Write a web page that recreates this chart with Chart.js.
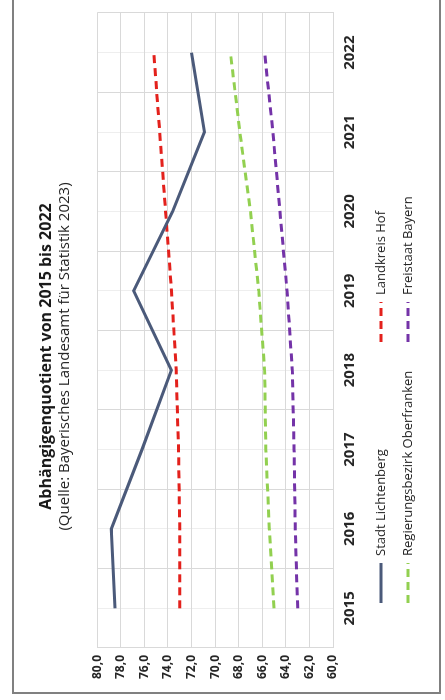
<!DOCTYPE html>
<html>
<head>
<meta charset="utf-8">
<script src="https://cdn.jsdelivr.net/npm/chart.js@4"></script>
<style>
  html, body { margin: 0; padding: 0; background: #fff; overflow: hidden; }
  #page { position: relative; width: 445px; height: 700px; overflow: hidden; background: #fff; }
  #rot { position: absolute; left: 0; top: 0; width: 700px; height: 445px;
         transform-origin: 0 0; transform: translateY(700px) rotate(-90deg); }
  #frame { position: absolute; left: 12px; top: -10px; width: 425px; height: 700px;
           border: 2px solid #808080; pointer-events: none; }
</style>
</head>
<body>
<div id="page">
  <div id="rot"><canvas id="c" width="700" height="445"></canvas></div>
  <div id="frame"></div>
</div>
<script>
const years = [2015, 2016, 2017, 2018, 2019, 2020, 2021, 2022];
const stadtLichtenberg = [78.5, 78.8, 76.2, 73.7, 76.9, 73.6, 70.9, 72.0];
const landkreisHof = [73.0, 73.0, 73.1, 73.3, 73.7, 74.2, 74.7, 75.2];
const oberfranken = [65.0, 65.4, 65.7, 65.8, 66.3, 67.0, 67.9, 68.7];
const freistaatBayern = [63.0, 63.2, 63.3, 63.45, 63.9, 64.5, 65.1, 65.8];
const seriesLabels = ['Stadt Lichtenberg', 'Landkreis Hof', 'Regierungsbezirk Oberfranken', 'Freistaat Bayern'];
const titleText = 'Abhängigenquotient von 2015 bis 2022';
const subtitleText = '(Quelle: Bayerisches Landesamt für Statistik 2023)';

const FONT = "'Open Sans', 'DejaVu Sans', sans-serif";
const toPts = arr => years.map((yr, i) => ({ x: yr, y: arr[i] }));

const legendPlugin = {
  id: 'gridLegend',
  afterDraw(chart) {
    const ctx = chart.ctx;
    const cols = [97, 358];
    const rows = [381, 408];
    ctx.save();
    ctx.font = "13px " + FONT;
    ctx.textBaseline = 'middle';
    ctx.fillStyle = '#262626';
    chart.data.datasets.forEach((ds, k) => {
      const x = cols[k % 2];
      const y = rows[Math.floor(k / 2)];
      ctx.beginPath();
      ctx.strokeStyle = ds.borderColor;
      ctx.lineWidth = 3;
      ctx.setLineDash(ds.borderDash || []);
      ctx.moveTo(x, y);
      ctx.lineTo(x + 40, y);
      ctx.stroke();
      ctx.setLineDash([]);
      ctx.fillText(ds.label, x + 47, y);
    });
    ctx.restore();
  }
};

new Chart(document.getElementById('c'), {
  type: 'line',
  data: {
    datasets: [
      { label: seriesLabels[0], data: toPts(stadtLichtenberg), borderColor: '#4b5a7a', borderWidth: 3 },
      { label: seriesLabels[1], data: toPts(landkreisHof), borderColor: '#e3211c', borderWidth: 3, borderDash: [8, 5] },
      { label: seriesLabels[2], data: toPts(oberfranken), borderColor: '#92d050', borderWidth: 3, borderDash: [8, 5] },
      { label: seriesLabels[3], data: toPts(freistaatBayern), borderColor: '#7433a8', borderWidth: 3, borderDash: [8, 5] }
    ]
  },
  options: {
    responsive: false,
    animation: false,
    devicePixelRatio: 1,
    layout: { padding: { left: 0, right: 13, top: 0, bottom: 82 } },
    elements: { point: { radius: 0 }, line: { tension: 0, fill: false } },
    plugins: {
      legend: { display: false },
      tooltip: { enabled: false },
      title: {
        display: true, text: titleText, color: '#1a1a1a',
        font: { family: FONT, size: 16, weight: 'bold' },
        padding: { top: 37, bottom: 0 }
      },
      subtitle: {
        display: true, text: subtitleText, color: '#262626',
        font: { family: FONT, size: 15 },
        padding: { top: 0, bottom: 23 }
      }
    },
    scales: {
      x: {
        type: 'linear', min: 2014.5, max: 2022.5,
        afterFit: s => { s.height = 30; },
        ticks: {
          stepSize: 0.5, autoSkip: false, maxRotation: 0, padding: 8,
          color: '#262626', font: { family: FONT, size: 15, weight: 'bold' },
          callback: v => Number.isInteger(v) ? String(v) : ''
        },
        grid: {
          drawTicks: false,
          color: c => (c.tick && Number.isInteger(c.tick.value)) ? '#eeeeee' : '#d9d9d9',
          lineWidth: 1
        },
        border: { color: '#d9d9d9' }
      },
      y: {
        min: 60, max: 80,
        afterFit: s => { s.width = 52; },
        ticks: {
          stepSize: 2, padding: 7,
          color: '#262626', font: { family: FONT, size: 12, weight: 'bold' },
          callback: v => v.toFixed(1).replace('.', ',')
        },
        grid: { drawTicks: false, color: '#d9d9d9', lineWidth: 1 },
        border: { color: '#d9d9d9' }
      }
    }
  },
  plugins: [legendPlugin]
});
</script>
</body>
</html>
